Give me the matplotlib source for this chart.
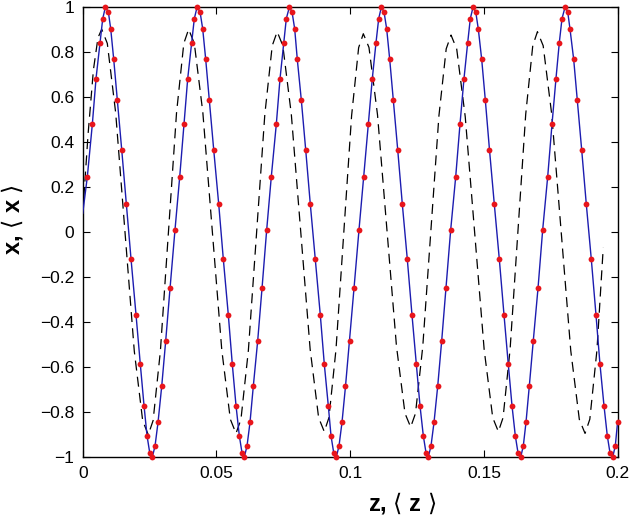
import matplotlib
matplotlib.use("Agg")
import matplotlib.pyplot as plt

plt.rcParams['font.family'] = ['Liberation Sans', 'DejaVu Sans']
plt.rcParams['mathtext.fontset'] = 'dejavusans'

# ---- data ----
x_ticks = [0, 0.05, 0.1, 0.15, 0.2]
x_tick_labels = ["0", "0.05", "0.1", "0.15", "0.2"]
y_ticks = [-1, -0.8, -0.6, -0.4, -0.2, 0, 0.2, 0.4, 0.6, 0.8, 1]
y_tick_labels = ["\u22121", "\u22120.8", "\u22120.6", "\u22120.4", "\u22120.2", "0",
                 "0.2", "0.4", "0.6", "0.8", "1"]

# solid series (blue line with red sample points)
blue_z = [0.0,
          0.00172, 0.00359, 0.00497, 0.00647, 0.00748, 0.00845,
          0.00957, 0.01047, 0.01159, 0.01293, 0.01458, 0.01630, 0.01806,
          0.01993, 0.02153, 0.02292, 0.02404, 0.02505, 0.02602, 0.02703,
          0.02815, 0.02953, 0.03103, 0.03264,
          0.03450, 0.03626, 0.03787, 0.03925, 0.04075, 0.04172, 0.04273,
          0.04385, 0.04486, 0.04598, 0.04733, 0.04897, 0.05084, 0.05256,
          0.05443, 0.05592, 0.05731, 0.05854, 0.05955, 0.06041, 0.06142,
          0.06254, 0.06377, 0.06542, 0.06703,
          0.06878, 0.07050, 0.07237, 0.07376, 0.07514, 0.07611, 0.07723,
          0.07824, 0.07925, 0.08022, 0.08172, 0.08336, 0.08508, 0.08695,
          0.08882, 0.09032, 0.09181, 0.09282, 0.09383, 0.09480, 0.09581,
          0.09693, 0.09824, 0.09974, 0.10142,
          0.10329, 0.10505, 0.10677, 0.10826, 0.10964, 0.11065, 0.11162,
          0.11263, 0.11364, 0.11477, 0.11611, 0.11776, 0.11948, 0.12134,
          0.12310, 0.12471, 0.12609, 0.12733, 0.12834, 0.12919, 0.13020,
          0.13133, 0.13271, 0.13421, 0.13581,
          0.13757, 0.13944, 0.14104, 0.14254, 0.14392, 0.14490, 0.14591,
          0.14692, 0.14789, 0.14916, 0.15051, 0.15207, 0.15387, 0.15574,
          0.15750, 0.15910, 0.16049, 0.16172, 0.16273, 0.16374, 0.16471,
          0.16572, 0.16695, 0.16845, 0.17021,
          0.17196, 0.17383, 0.17544, 0.17693, 0.17817, 0.17918, 0.18030,
          0.18131, 0.18217, 0.18355, 0.18490, 0.18654, 0.18826, 0.19013,
          0.19189, 0.19338, 0.19488, 0.19611, 0.19712, 0.19813, 0.19910,
          0.19995]
blue_x = [0.083,
          0.245, 0.478, 0.681, 0.840, 0.947, 0.997,
          0.978, 0.901, 0.766, 0.586, 0.365, 0.124, -0.120,
          -0.368, -0.587, -0.771, -0.904, -0.980, -0.999, -0.950,
          -0.845, -0.685, -0.482, -0.250,
          0.010, 0.245, 0.478, 0.681, 0.840, 0.947, 0.997,
          0.978, 0.901, 0.766, 0.586, 0.365, 0.124, -0.120,
          -0.368, -0.587, -0.771, -0.904, -0.980, -0.999, -0.950,
          -0.845, -0.685, -0.482, -0.250,
          0.010, 0.245, 0.478, 0.681, 0.840, 0.947, 0.997,
          0.978, 0.901, 0.766, 0.586, 0.365, 0.124, -0.120,
          -0.368, -0.587, -0.771, -0.904, -0.980, -0.999, -0.950,
          -0.845, -0.685, -0.482, -0.250,
          0.010, 0.245, 0.478, 0.681, 0.840, 0.947, 0.997,
          0.978, 0.901, 0.766, 0.586, 0.365, 0.124, -0.120,
          -0.368, -0.587, -0.771, -0.904, -0.980, -0.999, -0.950,
          -0.845, -0.685, -0.482, -0.250,
          0.010, 0.245, 0.478, 0.681, 0.840, 0.947, 0.997,
          0.978, 0.901, 0.766, 0.586, 0.365, 0.124, -0.120,
          -0.368, -0.587, -0.771, -0.904, -0.980, -0.999, -0.950,
          -0.845, -0.685, -0.482, -0.250,
          0.010, 0.245, 0.478, 0.681, 0.840, 0.947, 0.997,
          0.978, 0.901, 0.766, 0.586, 0.365, 0.124, -0.120,
          -0.368, -0.587, -0.771, -0.904, -0.980, -0.999, -0.950,
          -0.845]

# dashed series (mean values)
mean_z = [0.0, 0.0020, 0.0040, 0.0057, 0.0071,
          0.00919, 0.01232, 0.01580, 0.01928, 0.02241, 0.0245,
          0.02631, 0.02903, 0.03205, 0.03507, 0.03779, 0.0396,
          0.04172, 0.04491, 0.04845, 0.05199, 0.05518, 0.0573,
          0.05915, 0.06192, 0.06500, 0.06808, 0.07085, 0.0727,
          0.07481, 0.07798, 0.08150, 0.08502, 0.08819, 0.0903,
          0.09205, 0.09468, 0.09760, 0.10052, 0.10315, 0.1049,
          0.10702, 0.11021, 0.11375, 0.11729, 0.12048, 0.1226,
          0.12441, 0.12713, 0.13015, 0.13317, 0.13589, 0.1377,
          0.13982, 0.14301, 0.14655, 0.15009, 0.15328, 0.1554,
          0.15715, 0.15978, 0.16270, 0.16562, 0.16825, 0.1700,
          0.17214, 0.17534, 0.17890, 0.18246, 0.18566, 0.1878,
          0.18958, 0.19224, 0.1946]
mean_x = [0.080, 0.434, 0.720, 0.862, 0.900,
          0.837, 0.529, 0.000, -0.529, -0.837, -0.900,
          -0.837, -0.529, 0.000, 0.529, 0.837, 0.900,
          0.837, 0.530, 0.003, -0.524, -0.831, -0.894,
          -0.832, -0.527, -0.003, 0.522, 0.827, 0.889,
          0.827, 0.523, 0.002, -0.520, -0.824, -0.886,
          -0.824, -0.522, -0.003, 0.516, 0.818, 0.880,
          0.819, 0.520, 0.007, -0.506, -0.805, -0.866,
          -0.805, -0.508, 0.004, 0.516, 0.813, 0.874,
          0.812, 0.511, -0.006, -0.523, -0.824, -0.886,
          -0.824, -0.520, 0.002, 0.523, 0.827, 0.889,
          0.827, 0.522, -0.003, -0.527, -0.832, -0.894,
          -0.831, -0.525, -0.070]

# ---- figure ----
fig = plt.figure(figsize=(6.31, 5.19), dpi=100)
ax = fig.add_axes([0.1311, 0.1189, 0.8478, 0.8682])

ax.plot(mean_z, mean_x, color='black', linewidth=0.9, linestyle=(0, (8, 5)), zorder=2)
ax.plot(blue_z, blue_x, color='#1c1cb0', linewidth=1.0, zorder=3)
ax.plot(blue_z[1:], blue_x[1:], linestyle='none', marker='o', markersize=4.2,
        markerfacecolor='#e8151b', markeredgecolor='#e8151b', markeredgewidth=0,
        zorder=4, clip_on=False)

ax.set_xlim(0, 0.2)
ax.set_ylim(-1, 1)
ax.set_xticks(x_ticks)
ax.set_xticklabels(x_tick_labels)
ax.set_yticks(y_ticks)
ax.set_yticklabels(y_tick_labels)
ax.tick_params(direction='in', top=True, right=True, length=5, width=0.8,
               labelsize=12.5, pad=6)
for s in ax.spines.values():
    s.set_linewidth(1.0)

ax.set_xlabel(r'z, $\langle$ z $\rangle$', fontsize=17, fontweight='bold')
ax.set_ylabel(r'x, $\langle$ x $\rangle$', fontsize=17, fontweight='bold')
ax.xaxis.set_label_coords(0.597, -0.072)
ax.yaxis.set_label_coords(-0.108, 0.528)

fig.savefig('out.png', dpi=100)
